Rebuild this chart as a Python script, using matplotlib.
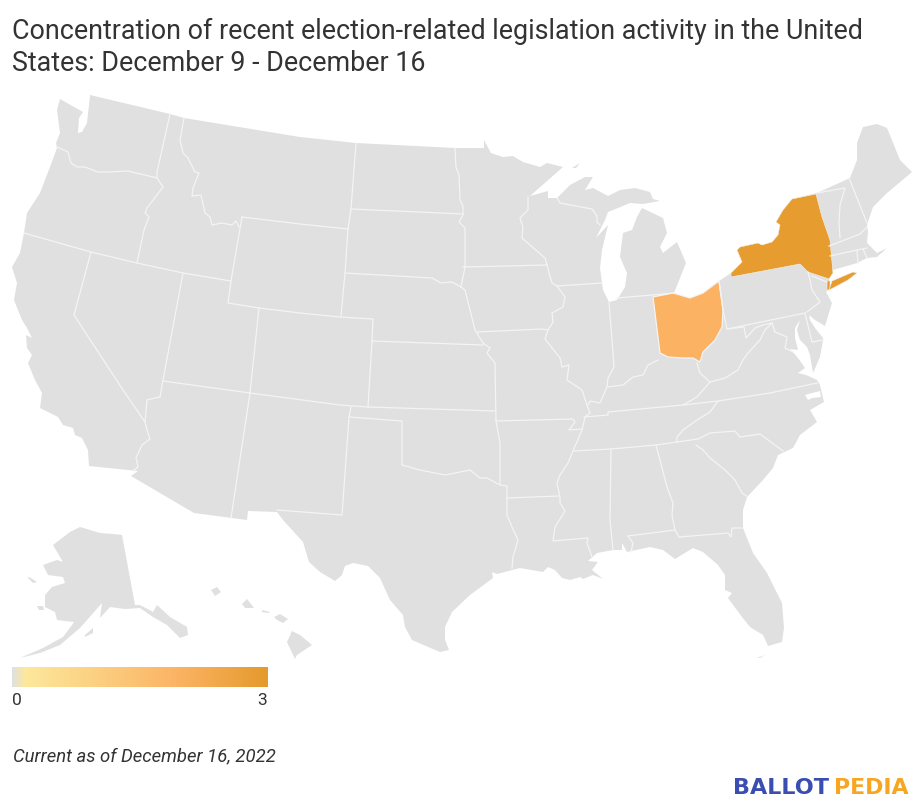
import numpy as np
import matplotlib
matplotlib.use("Agg")
import matplotlib.pyplot as plt
from matplotlib.colors import LinearSegmentedColormap

# everything in picture pixels (x right, y down)
mainland = [
    (90,95),(170,114),(184,118),(300,137),(356,143),(455,148),(484,148),(484,140),(491,153),(503,157),(513,156),
    (523,162),(540,167),(547,163),(563,167),(530,196),(548,191),(548,198),(557,198),(570,185),(585,177),(593,177),
    (585,190),(593,188),(608,196),(620,190),(635,188),(650,192),(653,199),(660,201),(643,204),(630,203),(618,208),
    (608,212),(605,220),(596,238),(608,225),(602,250),(600,268),(603,290),(609,302),(617,300),(625,287),(627,273),
    (620,257),(623,233),(632,230),(637,217),(642,208),(663,218),(667,233),(660,247),(663,253),(677,242),(686,263),
    (682,273),(674,293),(690,298),(703,293),(719,281),(731,273),(742,262),(737,250),(740,247),(758,243),(762,245),
    (772,242),(778,235),(780,225),(776,222),(783,210),(792,199),(817,193),(850,178),(857,160),(857,143),(863,127),
    (877,124),(887,128),(900,160),(912,172),(893,188),(887,193),(873,207),(867,225),(868,232),(867,243),(877,253),
    (887,248),(877,257),(867,258),(857,263),(833,270),(829,279),(828,290),(826,292),(832,303),(825,326),(815,320),
    (809,315),(810,320),(815,328),(823,338),(823,340),(820,357),(813,373),(810,355),(807,347),(800,340),(797,330),
    (800,320),(795,328),(795,338),(798,350),(790,349),(798,358),(805,368),(798,373),(806,375),(817,380),(820,385),
    (824,402),(810,410),(817,422),(800,435),(793,448),(778,455),(773,468),(763,480),(747,497),(743,510),(743,528),
    (753,553),(767,573),(782,603),(784,628),(782,642),(768,646),(763,635),(750,627),(742,617),(728,598),(732,593),
    (725,590),(725,575),(718,565),(703,552),(693,548),(675,559),(663,550),(650,547),(627,552),(622,543),(622,550),
    (613,550),(597,553),(588,561),(598,562),(592,570),(603,579),(593,575),(583,579),(580,577),(570,580),(562,578),
    (555,570),(548,567),(543,572),(520,568),(497,574),(492,572),(493,578),(470,595),(452,612),(445,627),(445,640),
    (449,650),(440,652),(412,640),(405,627),(403,615),(390,600),(380,578),(368,566),(353,563),(345,566),(342,575),
    (335,581),(320,572),(309,562),(303,542),(283,520),(277,512),(248,511),(247,520),(194,513),(131,476),(138,471),
    (89,466),(88,450),(82,438),(75,435),(73,428),(63,425),(58,417),(40,408),(42,393),(35,380),(28,363),(32,355),
    (27,348),(26,335),(32,338),(27,328),(22,320),(14,300),(17,283),(12,267),(20,253),(24,233),(27,213),(40,193),
    (50,167),(57,148),(56,143),(60,133),(57,110),(60,99),(67,103),(83,112),(79,118),(78,133),(82,132),(87,123),(89,105),
]
long_island = [(829,290),(832,281),(853,272),(857,273),(848,280),(833,288)]
florida_keys = [(757,658),(765,655),(760,658)]
isle_royale = [(572,168),(580,163),(576,168)]
alaska = [
    (122,535),(135,605),(140,605),(153,612),(157,605),(170,617),(187,627),(188,635),(180,638),(167,625),(153,617),
    (140,608),(125,609),(110,607),(100,618),(102,603),(87,620),(80,628),(60,645),(40,653),(20,658),(43,648),(63,637),
    (72,625),(74,622),(57,620),(55,612),(45,607),(45,595),(52,587),(65,583),(63,577),(48,575),(43,565),(57,560),
    (63,562),(53,545),(70,532),(80,527),(100,533),(113,534),
]
kodiak = [(85,635),(93,628),(93,633),(85,637)]
nunivak = [(37,606),(43,606),(44,610),(39,610)]
st_lawrence = [(27,577),(31,578),(37,582),(33,583)]
kauai = [(211,590),(217,587),(221,592),(215,596)]
oahu = [(242,604),(247,599),(254,608),(245,608)]
molokai = [(262,610),(270,612),(268,613),(262,612)]
maui = [(274,617),(280,614),(288,619),(283,623),(277,620)]
big_island = [(292,631),(300,635),(312,645),(297,655),(295,659),(287,642)]
land_parts = [mainland, long_island, florida_keys, isle_royale, alaska, kodiak, nunivak, st_lawrence,
              kauai, oahu, molokai, maui, big_island]
pamlico = [(805,395),(812,393),(820,391),(821,397),(812,398),(808,400)]

new_york = [
    (731,277),(731,273),(742,262),(737,250),(740,247),(758,243),(762,245),(772,242),(778,235),(780,225),(776,222),
    (783,210),(792,199),(816,194),(822,217),(830,240),(833,273),(829,279),(808,272),(800,264),
]
new_york_city = [(827,280),(830,281),(830,290),(827,290)]
ohio = [
    (653,297),(673,293),(690,298),(703,293),(719,281),(723,310),(722,327),(715,340),(708,347),(703,352),(700,362),
    (693,358),(683,358),(668,357),(660,353),
]

borders = [
    [(57,147),(68,152),(71,163),(77,167),(85,167),(98,172),(107,172),(128,171),(157,178)],
    [(170,114),(157,172),(157,178),(163,187),(147,208),(145,213),(149,217),(144,230),(137,263)],
    [(24,233),(91,252),(137,263),(183,273),(231,281)],
    [(91,252),(74,315),(123,390),(145,422),(147,430),(150,439),(142,445),(136,458),(138,467),(133,471)],
    [(145,422),(147,400),(155,398),(160,397),(163,380),(183,273)],
    [(163,381),(250,393),(340,405),(368,407),(495,411)],
    [(250,393),(231,518)],
    [(259,308),(250,393)],
    [(184,118),(180,140),(183,153),(188,158),(195,172),(199,173),(193,188),(192,196),(201,195),(205,213),(210,217),
     (212,225),(222,223),(232,225),(236,221),(239,227)],
    [(356,143),(351,209),(348,229),(345,273),(341,316)],
    [(242,217),(300,224),(348,229)],
    [(242,217),(231,281),(228,303),(259,308),(300,313),(340,317),(373,319),(372,341),(368,407)],
    [(351,209),(463,214)],
    [(345,273),(432,278),(441,283),(452,282),(461,287),(465,290),(470,310),(475,330),(483,343),(490,348),(487,353),
     (495,363),(496,421),(500,443),(500,484)],
    [(455,148),(456,167),(459,175),(460,200),(463,206),(463,215),(459,222),(465,228),(465,267),(463,277),(461,287)],
    [(463,267),(547,265)],
    [(372,341),(483,345)],
    [(477,332),(542,329),(548,330)],
    [(528,197),(528,210),(520,218),(523,227),(522,238),(530,245),(545,258),(547,265),(549,273),(552,283),(557,286),
     (565,297),(563,307),(552,313),(553,322),(548,330),(545,339),(560,358),(562,367),(569,365),(567,380),(582,390),
     (587,405),(590,413),(585,417),(582,430),(573,451),(568,463),(560,475),(557,483),(560,497),(560,503),(565,511),
     (555,527),(553,541),(588,538),(587,543),(592,557)],
    [(557,286),(602,283)],
    [(557,198),(560,203),(592,209),(597,216),(597,222),(600,225)],
    [(609,302),(613,353),(614,367),(608,378),(607,387),(600,403),(590,401),(588,405)],
    [(607,387),(623,385),(633,377),(643,375),(648,365),(658,360)],
    [(617,298),(652,295),(674,293)],
    [(496,421),(573,419),(575,422),(569,430),(582,429)],
    [(349,417),(402,421),(402,465),(420,470),(445,475),(470,470),(480,478),(487,478),(500,485),(507,486),(507,515),
     (512,527),(518,540),(513,557),(512,568)],
    [(351,407),(349,417),(342,515),(277,510)],
    [(507,498),(559,496)],
    [(611,449),(610,520),(613,550)],
    [(574,451),(611,449),(656,445),(677,442),(698,439),(710,433),(735,431),(740,437),(760,434),(783,451)],
    [(656,445),(667,487),(673,503),(672,515),(675,530),(679,537),(728,533),(731,537),(732,528),(742,528)],
    [(628,536),(675,530)],
    [(628,536),(633,543),(631,552)],
    [(696,445),(703,450),(710,458),(725,470),(735,480),(742,493),(748,497)],
    [(584,417),(608,415),(608,412),(683,405),(718,401),(770,393),(817,383)],
    [(677,442),(677,437),(683,430),(697,420),(710,412),(718,401)],
    [(683,405),(697,397),(710,382),(700,373),(697,363)],
    [(710,382),(725,378),(738,370),(743,360),(748,353),(760,340),(765,330),(772,323)],
    [(727,329),(744,327),(746,338),(755,328),(763,325),(772,323),(775,332),(787,337),(785,348),(793,352)],
    [(719,281),(723,310),(727,329),(805,313)],
    [(808,272),(810,280),(812,290),(820,302),(807,312)],
    [(805,313),(812,342),(823,340)],
    [(812,276),(827,282)],
    [(817,193),(845,188),(840,205),(839,223),(840,238)],
    [(849,178),(867,223)],
    [(829,246),(860,234),(867,227)],
    [(830,256),(857,250),(867,248)],
    [(857,250),(858,264)],
    [(863,249),(867,258)],
]

title_lines = ["Concentration of recent election-related legislation activity in the United",
               "States: December 9 - December 16"]
legend_stops = [0.0, 0.05, 0.65, 1.0]
legend_colors = ["#e0e0e0", "#fde89c", "#fbb363", "#e59a2c"]
legend_labels = ["0", "3"]
footnote = "Current as of December 16, 2022"

fig = plt.figure(figsize=(9.22, 8.11), dpi=100)
ax = fig.add_axes([0, 0, 1, 1])
ax.set_xlim(0, 922)
ax.set_ylim(811, 0)
ax.axis("off")

for part in land_parts:
    ax.fill(*zip(*part), color="#e0e0e0", lw=0)
ax.fill(*zip(*pamlico), color="white", lw=0)
for line in borders:
    ax.plot(*zip(*line), color="#f4f4f4", lw=0.9, solid_joinstyle="round")
ax.fill(*zip(*ohio), facecolor="#fbb363", edgecolor="#f4f4f4", lw=0.9)
for part in [new_york, new_york_city, long_island]:
    ax.fill(*zip(*part), facecolor="#e79c2f", edgecolor="#f4f4f4", lw=0.4)

cmap = LinearSegmentedColormap.from_list("legend", list(zip(legend_stops, legend_colors)))
ax.imshow(np.linspace(0, 1, 256)[None, :], cmap=cmap, extent=(12, 267, 687, 667), aspect="auto", zorder=3)
ax.set_xlim(0, 922)
ax.set_ylim(811, 0)

ax.text(12, 39, title_lines[0], family="Roboto", fontsize=19.4, color="#333333")
ax.text(12, 71, title_lines[1], family="Roboto", fontsize=19.4, color="#333333")
ax.text(12, 705, legend_labels[0], family="Roboto", fontsize=12.5, color="#333333")
ax.text(267, 705, legend_labels[1], family="Roboto", fontsize=12.5, color="#333333", ha="right")
ax.text(13, 761, footnote, family="Roboto", style="italic", fontsize=13.3, color="#333333")
ax.text(733, 794, "BALLOT", family="DejaVu Sans", weight="bold", fontsize=16, color="#3a4db0")
ax.text(908, 794, "PEDIA", family="DejaVu Sans", weight="bold", fontsize=15.8, color="#f6a623", ha="right")

fig.savefig("out.png", dpi=100)
